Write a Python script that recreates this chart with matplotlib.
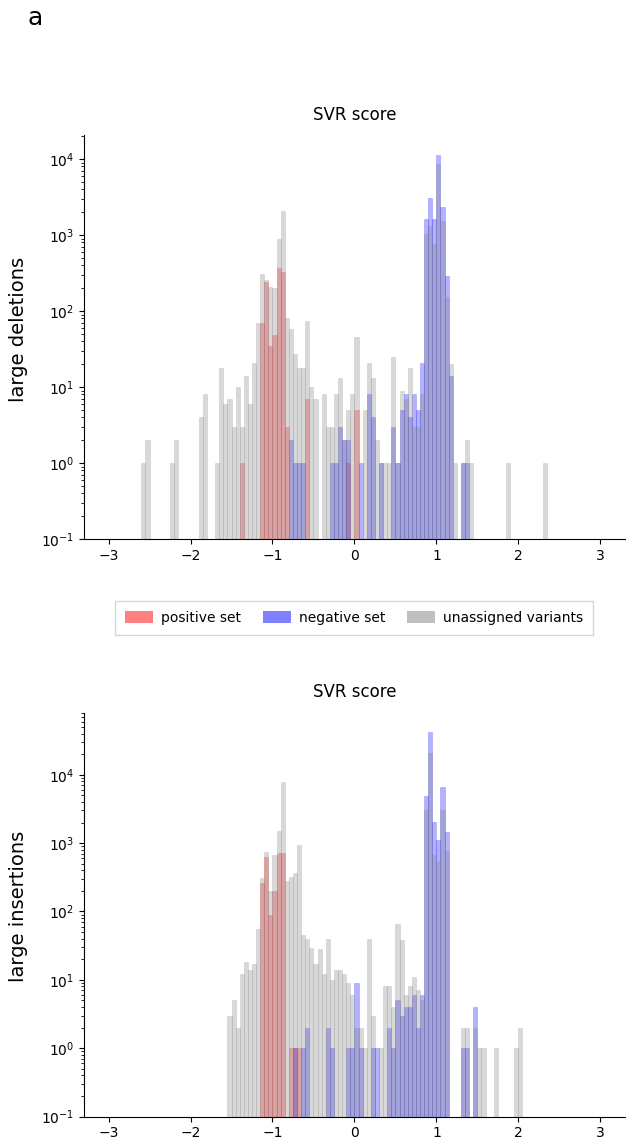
"""
SVR score histograms for large deletions / large insertions,
split into positive set, negative set and unassigned variants.
"""

import numpy as np
import matplotlib
matplotlib.use('Agg')
import matplotlib.pyplot as plt
from matplotlib.patches import Patch


# ─── Data (bin left edge -> count, bins of width 0.05) ───────────────────────
BIN_WIDTH = 0.05

del_pos_x = [-1.40, -1.15, -1.10, -1.05, -1.00, -0.95, -0.90, -0.85, -0.60, -0.10, 0.00]
del_pos_n = [1, 70, 240, 35, 48, 372, 326, 3, 7, 1, 5]

del_neg_x = [-0.80, -0.75, -0.70, -0.65, -0.30, -0.25, -0.20, -0.15, -0.10, 0.05,
             0.15, 0.20, 0.30, 0.45, 0.50, 0.55, 0.60, 0.65, 0.70, 0.75,
             0.80, 0.85, 0.90, 0.95, 1.00, 1.05, 1.10, 1.15, 1.30, 1.35]
del_neg_n = [2, 1, 1, 1, 1, 1, 3, 2, 2, 1,
             8, 4, 1, 3, 1, 5, 8, 4, 8, 5,
             21, 1620, 3070, 1620, 11200, 2330, 288, 14, 1, 1]

del_una_x = [-2.60, -2.55, -2.25, -2.20, -1.90, -1.85, -1.70, -1.65, -1.60, -1.55,
             -1.50, -1.45, -1.40, -1.35, -1.30, -1.25, -1.20, -1.15, -1.10, -1.05,
             -1.00, -0.95, -0.90, -0.85, -0.80, -0.75, -0.70, -0.65, -0.60, -0.55,
             -0.50, -0.40, -0.35, -0.30, -0.25, -0.20, -0.15, -0.10, -0.05, 0.00,
             0.10, 0.15, 0.20, 0.25, 0.30, 0.35, 0.40, 0.45, 0.50, 0.55,
             0.60, 0.65, 0.70, 0.75, 0.80, 0.85, 0.90, 0.95, 1.00, 1.05,
             1.10, 1.15, 1.20, 1.30, 1.35, 1.40, 1.85, 2.30]
del_una_n = [1, 2, 1, 2, 4, 8, 1, 18, 6, 7,
             3, 10, 3, 14, 6, 21, 70, 307, 255, 210,
             200, 886, 2070, 81, 58, 27, 18, 18, 74, 10,
             7, 8, 3, 3, 8, 13, 2, 5, 8, 45,
             5, 21, 13, 2, 1, 1, 1, 25, 1, 9,
             7, 18, 3, 3, 8, 1030, 1310, 770, 8600, 1530,
             154, 20, 1, 1, 2, 1, 1, 1]

ins_pos_x = [-1.15, -1.10, -1.05, -1.00, -0.95, -0.90, -0.80, -0.75, -0.70]
ins_pos_n = [263, 634, 90, 202, 726, 726, 1, 1, 1]

ins_neg_x = [-0.75, -0.65, -0.60, -0.35, -0.30, -0.10, -0.05, 0.00, 0.05, 0.20,
             0.25, 0.40, 0.45, 0.50, 0.55, 0.60, 0.65, 0.70, 0.75, 0.80,
             0.85, 0.90, 0.95, 1.00, 1.05, 1.10, 1.30, 1.35, 1.45]
ins_neg_n = [1, 1, 2, 2, 1, 1, 1, 9, 1, 1,
             1, 2, 1, 5, 3, 4, 4, 6, 2, 6,
             4950, 41500, 2070, 1125, 6720, 1470, 1, 1, 4]

ins_una_x = [-1.55, -1.50, -1.45, -1.40, -1.35, -1.30, -1.25, -1.20, -1.15, -1.10,
             -1.05, -1.00, -0.95, -0.90, -0.85, -0.80, -0.75, -0.70, -0.65, -0.60,
             -0.55, -0.50, -0.45, -0.40, -0.35, -0.30, -0.25, -0.20, -0.15, -0.10,
             -0.05, 0.00, 0.05, 0.10, 0.15, 0.20, 0.30, 0.35, 0.40, 0.45,
             0.50, 0.55, 0.60, 0.65, 0.70, 0.75, 0.80, 0.85, 0.90, 0.95,
             1.00, 1.05, 1.10, 1.30, 1.35, 1.45, 1.50, 1.55, 1.70, 1.95, 2.00]
ins_una_n = [3, 5, 2, 12, 18, 14, 17, 56, 313, 743,
             202, 678, 1524, 7940, 282, 324, 370, 950, 46, 39,
             29, 17, 28, 12, 39, 10, 14, 14, 12, 9,
             6, 2, 2, 1, 39, 3, 1, 8, 8, 4,
             66, 38, 6, 8, 11, 7, 5, 3090, 21100, 678,
             555, 3000, 776, 2, 2, 2, 1, 1, 1, 1, 2]

labels = ['positive set', 'negative set', 'unassigned variants']
COLORS = {'pos': 'red', 'neg': 'blue', 'una': 'gray'}


# ─── Plot helpers ─────────────────────────────────────────────────────────────
def draw_panel(ax, series, ylabel, ytop):
    bins = np.round(np.arange(-3, 3 + BIN_WIDTH / 2, BIN_WIDTH), 2)
    for key, xs, ns in series:
        centers = np.array(xs) + BIN_WIDTH / 2
        ax.hist(centers, bins=bins, weights=ns, log=True,
                color=COLORS[key], alpha=0.3,
                edgecolor=COLORS[key], linewidth=0.4)
    ax.set_yscale('log')
    ax.set_xlim(-3.3, 3.3)
    ax.set_ylim(0.1, ytop)
    ax.set_title('SVR score', fontsize=12, pad=11)
    ax.set_ylabel(ylabel, fontsize=14)
    ax.yaxis.set_label_coords(-0.1035, 0.52)
    ax.tick_params(labelsize=10)
    for side in ('top', 'right'):
        ax.spines[side].set_visible(False)


fig = plt.figure(figsize=(6.26, 11.47), dpi=100)
ax1 = fig.add_axes([0.1342, 0.5300, 0.864, 0.3522])
ax2 = fig.add_axes([0.1342, 0.0265, 0.864, 0.3522])

draw_panel(ax1, [('pos', del_pos_x, del_pos_n),
                 ('neg', del_neg_x, del_neg_n),
                 ('una', del_una_x, del_una_n)],
           'large deletions', 2.07e4)
draw_panel(ax2, [('pos', ins_pos_x, ins_pos_n),
                 ('neg', ins_neg_x, ins_neg_n),
                 ('una', ins_una_x, ins_una_n)],
           'large insertions', 8.1e4)

handles = [Patch(facecolor=COLORS[k], alpha=0.5, edgecolor='none')
           for k in ('pos', 'neg', 'una')]
fig.legend(handles, labels, loc='center', ncol=3, fontsize=10,
           handleheight=1.0, borderpad=0.75, handletextpad=0.57,
           columnspacing=1.6, bbox_to_anchor=(354 / 626, 1 - 618 / 1147),
           fancybox=False, edgecolor='#cccccc')

fig.text(35 / 626, 1 - 18 / 1147, 'a', fontsize=18, ha='center', va='center')

fig.savefig('out.png', dpi=100)
